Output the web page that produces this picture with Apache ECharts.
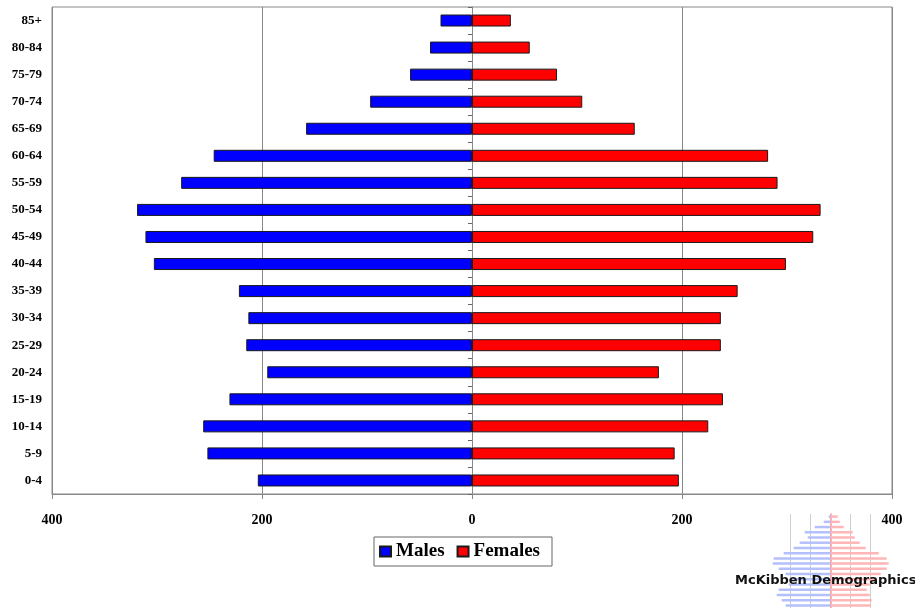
<!DOCTYPE html>
<html>
<head>
<meta charset="utf-8">
<script src="https://cdn.jsdelivr.net/npm/echarts@6/dist/echarts.min.js"></script>
<style>html,body{margin:0;padding:0;background:#fff}#c{width:915px;height:608px}</style>
</head>
<body>
<div id="c"></div>
<script>
var categories = ['0-4','5-9','10-14','15-19','20-24','25-29','30-34','35-39','40-44','45-49','50-54','55-59','60-64','65-69','70-74','75-79','80-84','85+'];
var males   = [204, 252, 256, 231, 195, 215, 213, 222, 303, 311, 319, 277, 246, 158, 97, 59, 40, 30];
var females = [197, 193, 225, 239, 178, 237, 237, 253, 299, 325, 332, 291, 282, 155, 105, 81, 55, 37];
var xTicks = [-400, -200, 0, 200, 400];
// decorative logo pyramid (top row first), pixel-estimated half-widths
var logoRows = ['r1','r2','r3','r4','r5','r6','r7','r8','r9','r10','r11','r12','r13','r14','r15','r16','r17','r18'];
var logoMales   = [2, 7, 16, 26, 23, 31, 37, 47, 57, 58, 52, 45, 40, 42, 52, 54, 49, 45];
var logoFemales = [7, 9, 13, 22, 24, 29, 35, 48, 56, 58, 56, 50, 45, 39, 36, 39, 41, 40];

var serif = 'Liberation Serif';
var chart = echarts.init(document.getElementById('c'), null, {renderer: 'canvas'});
chart.setOption({
  animation: false,
  backgroundColor: '#fff',
  legend: {
    data: ['Males', 'Females'],
    left: 374, top: 537,
    orient: 'horizontal',
    padding: [5, 12, 5, 5],
    itemWidth: 11, itemHeight: 10, itemGap: 12,
    borderColor: '#666', borderWidth: 1,
    icon: 'rect',
    textStyle: {fontFamily: serif, fontWeight: 'bold', fontSize: 19, color: '#000'}
  },
  grid: [
    {left: 52, right: 23, top: 7, bottom: 114, show: true, borderColor: '#888', borderWidth: 1, backgroundColor: 'transparent', containLabel: false},
    {left: 770.7, width: 120, top: 514, height: 99, show: false, containLabel: false}
  ],
  xAxis: [
    {
      type: 'value', gridIndex: 0, min: xTicks[0], max: xTicks[xTicks.length - 1], interval: 200,
      axisLine: {show: true, lineStyle: {color: '#888', width: 1}},
      axisTick: {show: true, length: 5, lineStyle: {color: '#888'}},
      splitLine: {show: true, lineStyle: {color: '#888', width: 1}},
      axisLabel: {
        margin: 19, color: '#000', fontFamily: serif, fontWeight: 'bold', fontSize: 14,
        formatter: function (v) { return String(Math.abs(v)); }
      }
    },
    {
      type: 'value', gridIndex: 1, min: -60, max: 60, interval: 20,
      axisLine: {show: false}, axisTick: {show: false}, axisLabel: {show: false},
      splitLine: {show: true, showMinLine: false, showMaxLine: false, lineStyle: {color: '#cfcfcf', width: 1}}
    }
  ],
  yAxis: [
    {
      type: 'category', gridIndex: 0, data: categories, position: 'left',
      axisLine: {show: false, onZero: false}, axisTick: {show: false},
      axisLabel: {margin: 10, color: '#000', fontFamily: serif, fontWeight: 'bold', fontSize: 13}
    },
    {
      type: 'category', gridIndex: 0, data: categories, position: 'left',
      axisLine: {show: true, onZero: true, onZeroAxisIndex: 0, lineStyle: {color: '#888', width: 1}},
      axisTick: {show: true, length: 4, lineStyle: {color: '#666'}},
      axisLabel: {show: false}
    },
    {
      type: 'category', gridIndex: 1, data: logoRows, inverse: true,
      axisLine: {show: true, onZero: true, lineStyle: {color: '#ff9a9a', width: 1.5}},
      axisTick: {show: false}, axisLabel: {show: false}
    }
  ],
  series: [
    {
      name: 'Males', type: 'bar', stack: 'pop', xAxisIndex: 0, yAxisIndex: 0,
      barWidth: 12,
      itemStyle: {color: '#0000ff', borderColor: '#1a1a1a', borderWidth: 1},
      data: males.map(function (v) { return -v; }),
      z: 3
    },
    {
      name: 'Females', type: 'bar', stack: 'pop', xAxisIndex: 0, yAxisIndex: 0,
      barWidth: 12,
      itemStyle: {color: '#ff0000', borderColor: '#1a1a1a', borderWidth: 1},
      data: females,
      z: 3
    },
    {
      name: 'logoM', type: 'bar', stack: 'logo', xAxisIndex: 1, yAxisIndex: 2,
      barWidth: 2.5, silent: true,
      itemStyle: {color: '#b4c0fb'},
      data: logoMales.map(function (v) { return -v; }),
      z: 1
    },
    {
      name: 'logoF', type: 'bar', stack: 'logo', xAxisIndex: 1, yAxisIndex: 2,
      barWidth: 2.5, silent: true,
      itemStyle: {color: '#ffb6b6'},
      data: logoFemales,
      z: 1
    }
  ],
  graphic: [
    {
      type: 'text', left: 735, top: 574, z: 100,
      style: {text: 'McKibben Demographics', fill: '#111', font: 'bold 13px "DejaVu Sans"'}
    }
  ]
});
</script>
</body>
</html>
